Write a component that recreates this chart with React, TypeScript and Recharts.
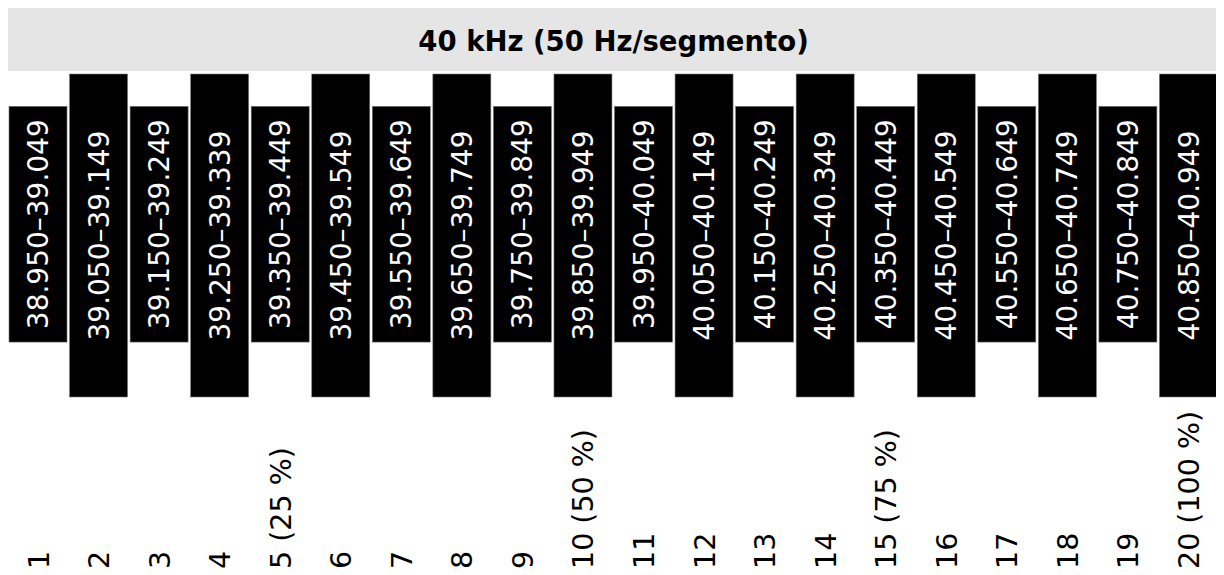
import React from "react";
import { BarChart, Bar, XAxis, YAxis } from "recharts";

const title = "40 kHz (50 Hz/segmento)";
const segmentLabels = [
  "1", "2", "3", "4", "5 (25 %)", "6", "7", "8", "9", "10 (50 %)",
  "11", "12", "13", "14", "15 (75 %)", "16", "17", "18", "19", "20 (100 %)",
];
const rangeLabels = [
  "38.950–39.049", "39.050–39.149", "39.150–39.249", "39.250–39.339", "39.350–39.449",
  "39.450–39.549", "39.550–39.649", "39.650–39.749", "39.750–39.849", "39.850–39.949",
  "39.950–40.049", "40.050–40.149", "40.150–40.249", "40.250–40.349", "40.350–40.449",
  "40.450–40.549", "40.550–40.649", "40.650–40.749", "40.750–40.849", "40.850–40.949",
];
const lows = [17, 0, 17, 0, 17, 0, 17, 0, 17, 0, 17, 0, 17, 0, 17, 0, 17, 0, 17, 0];
const highs = [90, 100, 90, 100, 90, 100, 90, 100, 90, 100, 90, 100, 90, 100, 90, 100, 90, 100, 90, 100];

const data = segmentLabels.map((s, i) => ({
  seg: s,
  label: rangeLabels[i],
  range: [lows[i], highs[i]],
}));

const FONT = "'DejaVu Sans', Verdana, sans-serif";
const W = 1211;
const H = 504;

const BarShape = (props: any) => {
  const { x, y, width, height, payload } = props;
  const cx = x + width / 2;
  const cy = y + height / 2;
  return (
    <g>
      <rect x={x} y={y} width={width} height={height} fill="#000" stroke="#777" strokeWidth={0.6} />
      <text
        transform={`translate(${cx}, ${cy}) rotate(-90)`}
        textAnchor="middle"
        dy="0.36em"
        fill="#fff"
        fontSize={28}
        fontFamily={FONT}
      >
        {payload.label}
      </text>
    </g>
  );
};

const SegTick = (props: any) => {
  const { x, payload } = props;
  return (
    <text
      transform={`translate(${x}, ${H - 6}) rotate(-90)`}
      textAnchor="start"
      dy="0.36em"
      fill="#000"
      fontSize={28.5}
      fontFamily={FONT}
    >
      {payload.value}
    </text>
  );
};

export default function App() {
  return (
    <div style={{ width: W, fontFamily: FONT }}>
      <div
        style={{
          width: W,
          height: 63,
          background: "#e5e5e5",
          display: "flex",
          alignItems: "center",
          justifyContent: "center",
          fontWeight: "bold",
          fontSize: 27.5,
          color: "#000",
          paddingTop: 2,
          boxSizing: "border-box",
        }}
      >
        {title}
      </div>
      <BarChart
        width={W}
        height={H}
        data={data}
        margin={{ top: 3, right: 0, left: 0, bottom: 0 }}
        barSize={58}
      >
        <XAxis
          dataKey="seg"
          axisLine={false}
          tickLine={false}
          height={178}
          interval={0}
          tick={<SegTick />}
        />
        <YAxis hide domain={[0, 100]} />
        <Bar dataKey="range" isAnimationActive={false} shape={<BarShape />} />
      </BarChart>
    </div>
  );
}
